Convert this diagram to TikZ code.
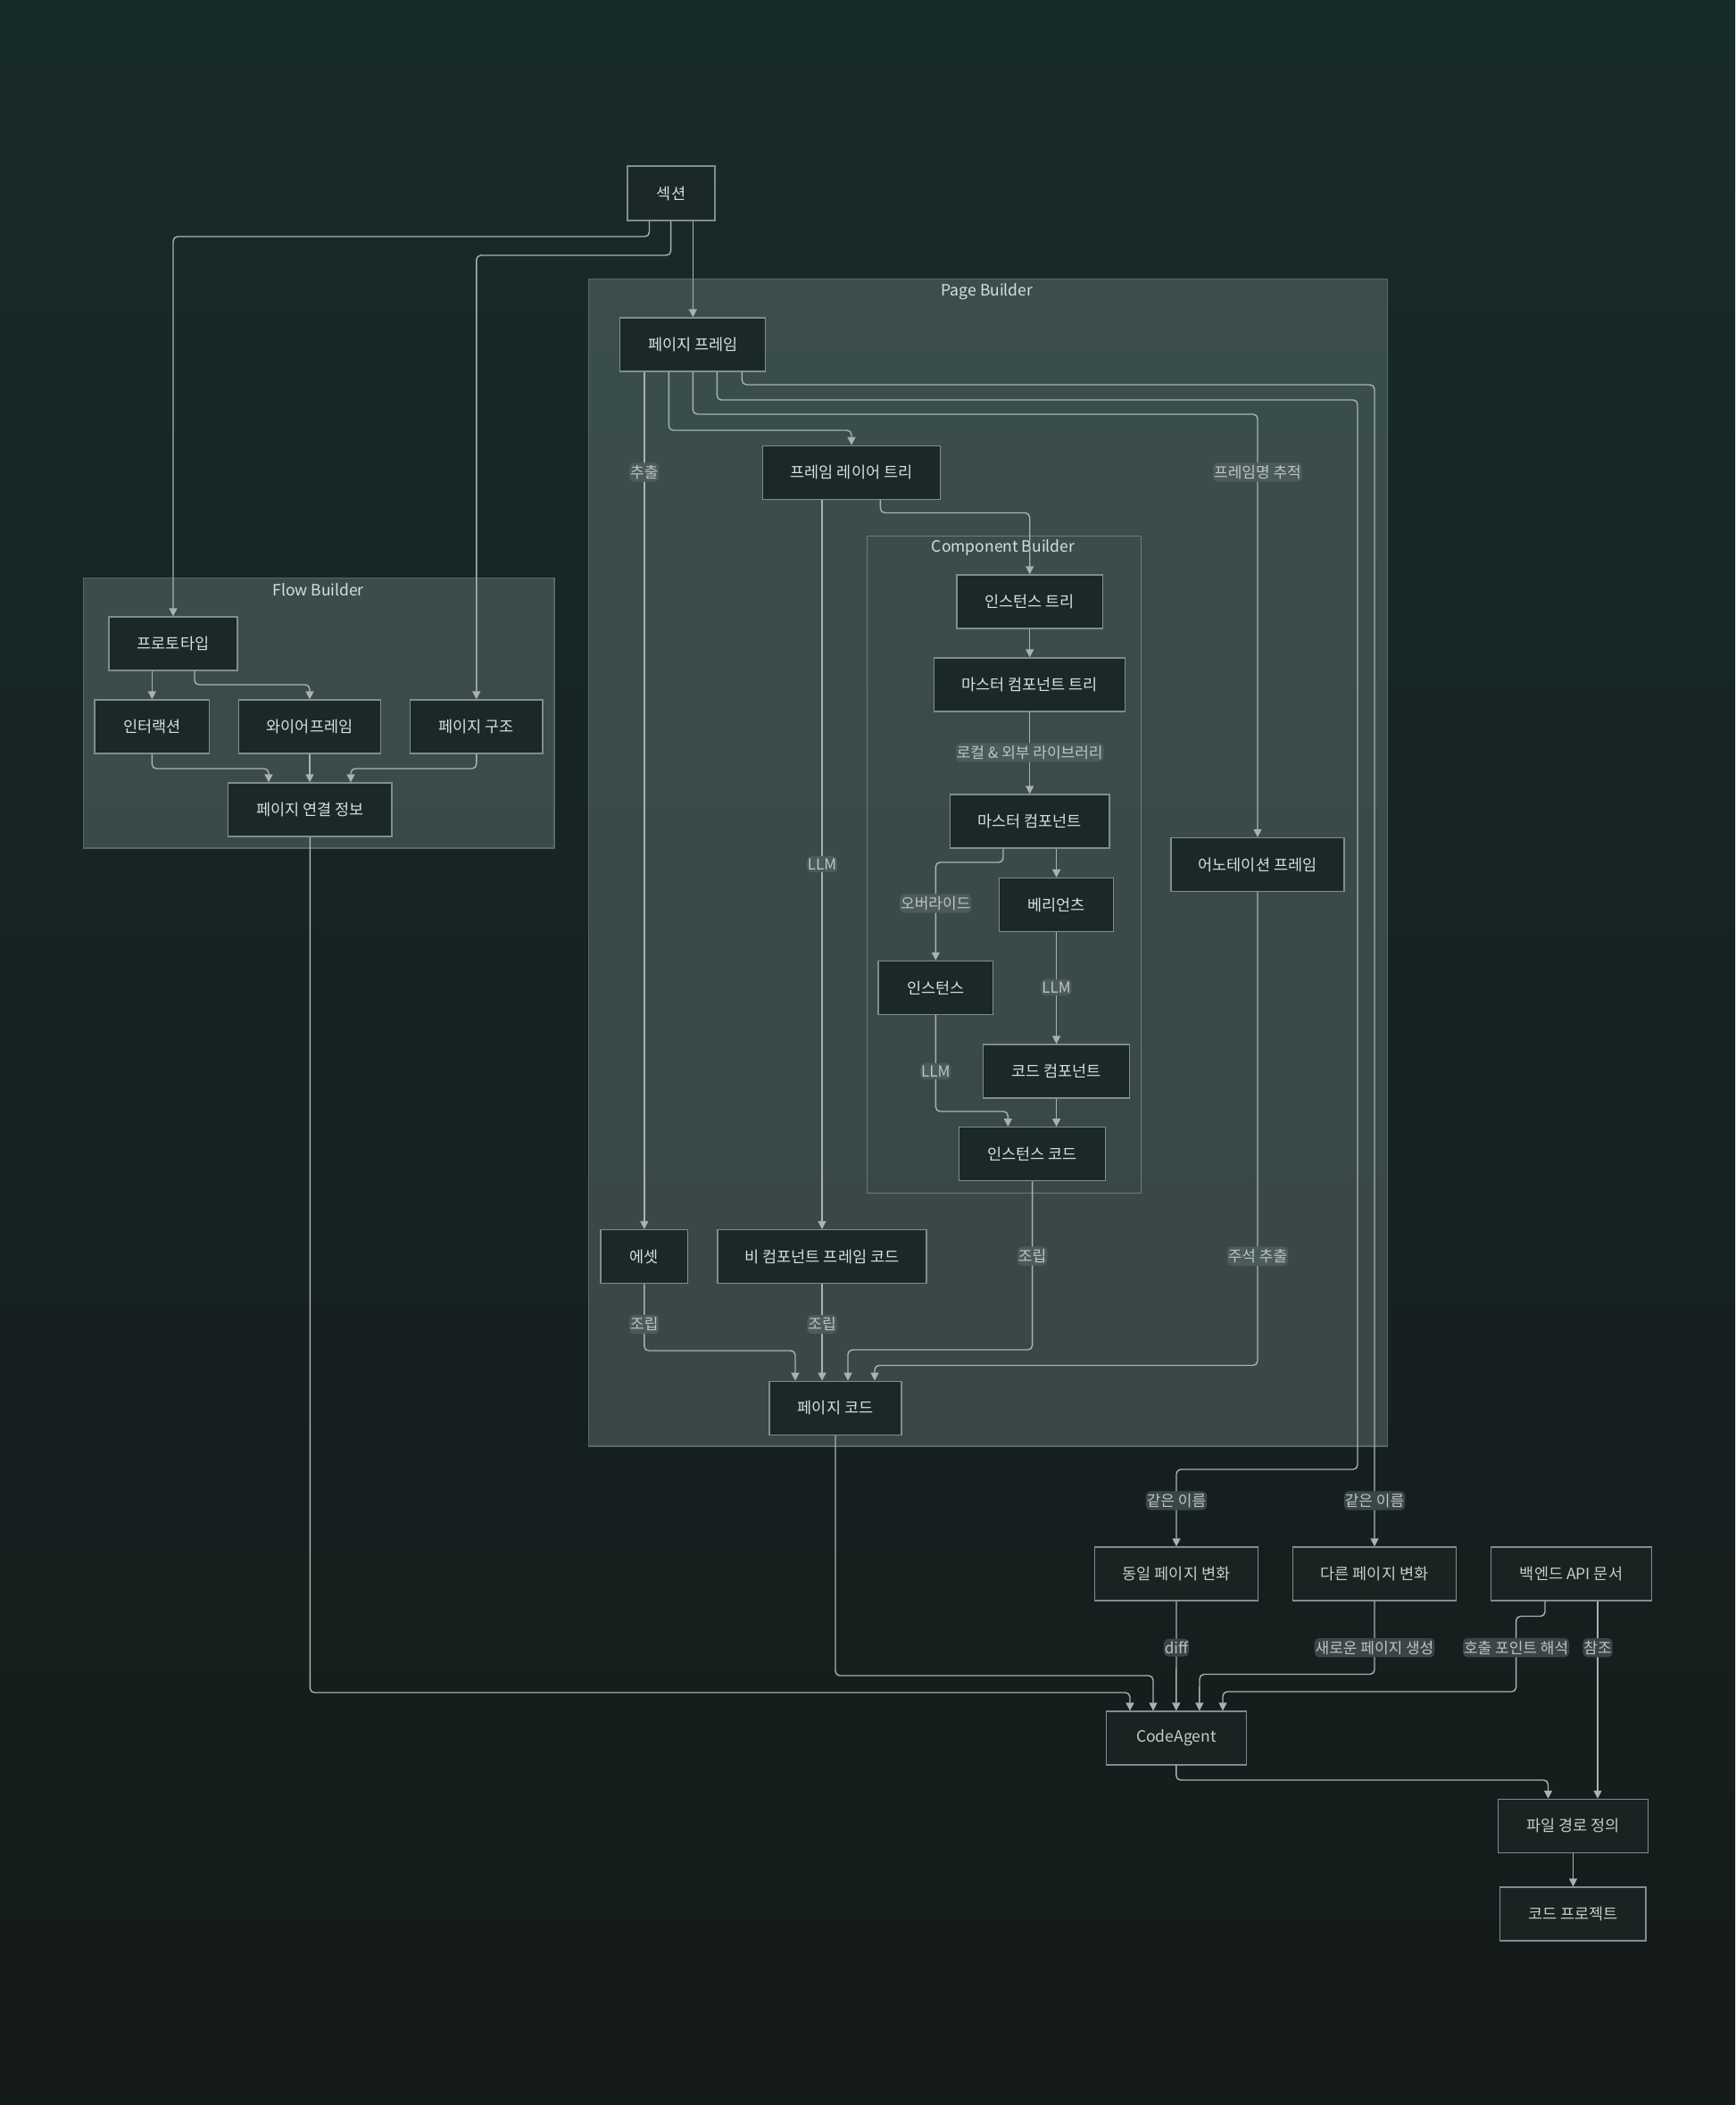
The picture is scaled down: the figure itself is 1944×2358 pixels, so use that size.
\documentclass[tikz,border=0pt]{standalone}
\usepackage{fontspec}
\setmainfont{Noto Sans CJK KR}
\usetikzlibrary{arrows.meta,calc}
\definecolor{bgtop}{HTML}{182B2B}
\definecolor{bgbot}{HTML}{151A1A}
\definecolor{clfill}{HTML}{9AB4B1}
\definecolor{clborder}{HTML}{55696A}
\definecolor{cbborder}{HTML}{6B7C7B}
\definecolor{nodefill}{HTML}{1B2828}
\definecolor{ofill}{HTML}{1A2222}
\definecolor{nodeborder}{HTML}{7F8E8D}
\definecolor{nodetext}{HTML}{D8DFDD}
\definecolor{linecol}{HTML}{A7B3B1}
\definecolor{lblbg}{HTML}{4B5B5A}
\definecolor{lblbgtwo}{HTML}{3A4545}
\definecolor{lbltext}{HTML}{BAC5C3}
\begin{document}
\begin{tikzpicture}[x=1pt,y=-1pt,
  box/.style={draw=nodeborder, fill=nodefill, line width=1.3pt, minimum width=#1, minimum height=60pt, inner sep=0pt, text=nodetext, font=\fontsize{17.5}{20}\selectfont},
  obox/.style={box=#1, fill=ofill, text=nodetext!92!black},
  cluster/.style={fill=clfill, fill opacity=0.27, draw=clborder, draw opacity=1, line width=1.2pt},
  cltitle/.style={text=nodetext, font=\fontsize{17.5}{20}\selectfont, inner sep=0pt},
  edge/.style={draw=linecol, line width=1.4pt, rounded corners=5pt, -{Triangle[length=9pt,width=9pt]}},
  elabel/.style={fill=lblbg, text=lbltext, inner xsep=1pt, inner ysep=3pt, font=\fontsize{17}{20}\selectfont},
  elabeltwo/.style={elabel, fill=lblbgtwo},
]
\useasboundingbox (0,0) rectangle (1944,2358);
\shade[top color=bgtop, bottom color=bgbot] (0,0) rectangle (1944,2358);

% clusters
\path[cluster] (659.8,312.5) rectangle (1554.6,1620);
\node[cltitle] (pbtitle) at (1106,327) {Page Builder};
\path[cluster] (93.3,647.4) rectangle (621,950);
\node[cltitle] (fbtitle) at (356.6,661) {Flow Builder};
\draw[draw=cbborder, line width=1pt] (971,600.4) rectangle (1278.6,1336);
\node[cltitle] (cbtitle) at (1124,614) {Component Builder};

% nodes
\node[box=98, minimum height=61pt] (sec) at (752,216.5) {섹션};
\node[box=144] (proto) at (194,721) {프로토타입};
\node[box=128.5] (inter) at (170.3,814) {인터랙션};
\node[box=159] (wire) at (347,814) {와이어프레임};
\node[box=148.5] (pstruct) at (533.8,814) {페이지 구조};
\node[box=183.5] (plink) at (347.3,907) {페이지 연결 정보};
\node[box=163] (pframe) at (776.3,386) {페이지 프레임};
\node[box=199] (fltree) at (954,529.3) {프레임 레이어 트리};
\node[box=163.5] (itree) at (1153.7,674) {인스턴스 트리};
\node[box=214] (mctree) at (1153.7,767) {마스터 컴포넌트 트리};
\node[box=178.5] (mc) at (1153.7,920) {마스터 컴포넌트};
\node[box=128] (var) at (1183.6,1013.6) {베리언츠};
\node[box=128.7] (inst) at (1048.3,1106.4) {인스턴스};
\node[box=163.6] (cc) at (1183.6,1200) {코드 컴포넌트};
\node[box=163.6] (icode) at (1156.6,1292.7) {인스턴스 코드};
\node[box=194] (annot) at (1409,968.5) {어노테이션 프레임};
\node[box=97.5] (asset) at (721.8,1407.6) {에셋};
\node[box=234] (ncode) at (921,1407.6) {비 컴포넌트 프레임 코드};
\node[box=148] (pcode) at (936,1577.3) {페이지 코드};
\node[obox=183] (same) at (1318,1763) {동일 페이지 변화};
\node[obox=183.5] (diffp) at (1540,1763) {다른 페이지 변화};
\node[obox=180] (api) at (1760.5,1763) {백엔드 API 문서};
\node[obox=157] (ca) at (1317.8,1947) {CodeAgent};
\node[obox=168] (fpath) at (1762.5,2045.4) {파일 경로 정의};
\node[obox=163.5] (cproj) at (1762.3,2144) {코드 프로젝트};

% edges from 섹션
\draw[edge] ([xshift=-24.5pt]sec.south) -- (727.5,265) -- (194,265) -- (proto.north);
\draw[edge] ([xshift=-0.4pt]sec.south) -- (751.6,286) -- (533.8,286) -- (pstruct.north);
\draw[edge] (sec.south -| pframe.north) -- (pframe.north);

% flow builder
\draw[edge] (proto.south -| inter.north) -- (inter.north);
\draw[edge] ([xshift=24pt]proto.south) -- (218,767) -- (347,767) -- (wire.north);
\draw[edge] (inter.south) -- (170.3,861) -- (301,861) -- ([xshift=-46.3pt]plink.north);
\draw[edge] (wire.south) -- (wire.south |- plink.north);
\draw[edge] (pstruct.south) -- (533.8,861) -- (393,861) -- ([xshift=45.7pt]plink.north);

% page builder
\draw[edge] (pframe.south -| asset.north) -- (721.8,529) node[elabel]{추출} -- (asset.north);
\draw[edge] ([xshift=-27pt]pframe.south) -- (749.3,482) -- (954,482) -- (fltree.north);
\draw[edge] (pframe.south) -- (776.3,464) -- (1409,464) -- (1409,529) node[elabel]{프레임명 추적} -- (annot.north);
\draw[edge] ([xshift=27pt]pframe.south) -- (803.3,448) -- (1521,448) -- (1521,1646) -- (1318,1646) -- (1318,1681) node[elabeltwo]{같은 이름} -- (same.north);
\draw[edge] ([xshift=55.1pt]pframe.south) -- (831.4,431) -- (1540,431) -- (1540,1681) node[elabeltwo]{같은 이름} -- (diffp.north);
\draw[edge] (fltree.south -| ncode.north) -- (921,968) node[elabel]{LLM} -- (ncode.north);
\draw[edge] ([xshift=32.4pt]fltree.south) -- (986.4,574.5) -- (1153.7,574.5) -- (itree.north);
\draw[edge] (itree.south) -- (mctree.north);
\draw[edge] (mctree.south) -- (1153.7,843) node[elabel]{로컬 \& 외부 라이브러리} -- (mc.north);
\draw[edge] ([xshift=-29.7pt]mc.south) -- (1124,966) -- (1048.3,966) -- (1048.3,1012) node[elabel]{오버라이드} -- (inst.north);
\draw[edge] (mc.south -| var.north) -- (var.north);
\draw[edge] (var.south) -- (1183.6,1106) node[elabel]{LLM} -- (cc.north);
\draw[edge] (inst.south) -- (1048.3,1200) node[elabel]{LLM} -- (1048.3,1245) -- (1129.3,1245) -- ([xshift=-27.3pt]icode.north);
\draw[edge] (cc.south) -- (cc.south |- icode.north);
\draw[edge] (icode.south) -- (1156.6,1407) node[elabel]{조립} -- (1156.6,1512) -- (950,1512) -- ([xshift=14pt]pcode.north);
\draw[edge] (annot.south) -- (1409,1407) node[elabel]{주석 추출} -- (1409,1529.5) -- (980,1529.5) -- ([xshift=44pt]pcode.north);
\draw[edge] (asset.south) -- (721.8,1483.5) node[elabel]{조립} -- (721.8,1513) -- (891,1513) -- ([xshift=-45pt]pcode.north);
\draw[edge] (ncode.south) -- (921,1483.5) node[elabel]{조립} -- ([xshift=-15pt]pcode.north);

% bottom
\draw[edge] (plink.south) -- (347.3,1896) -- (1266,1896) -- ([xshift=-51.8pt]ca.north);
\draw[edge] (pcode.south) -- (936,1877) -- (1292,1877) -- ([xshift=-25.8pt]ca.north);
\draw[edge] (same.south) -- (1318,1845.7) node[elabeltwo]{diff} -- (ca.north);
\draw[edge] (diffp.south) -- (1540,1845.7) node[elabeltwo]{새로운 페이지 생성} -- (1540,1875.5) -- (1344,1875.5) -- ([xshift=26pt]ca.north);
\draw[edge] ([xshift=-29.5pt]api.south) -- (1731,1810.5) -- (1698.6,1810.5) -- (1698.6,1845.7) node[elabeltwo]{호출 포인트 해석} -- (1698.6,1895) -- (1370,1895) -- ([xshift=52.2pt]ca.north);
\draw[edge] ([xshift=29.5pt]api.south) -- (1790,1845.7) node[elabeltwo]{참조} -- ([xshift=27.5pt]fpath.north);
\draw[edge] (ca.south) -- (1317.8,1994) -- (1734.5,1994) -- ([xshift=-28pt]fpath.north);
\draw[edge] (fpath.south) -- (fpath.south |- cproj.north);
\end{tikzpicture}
\end{document}
